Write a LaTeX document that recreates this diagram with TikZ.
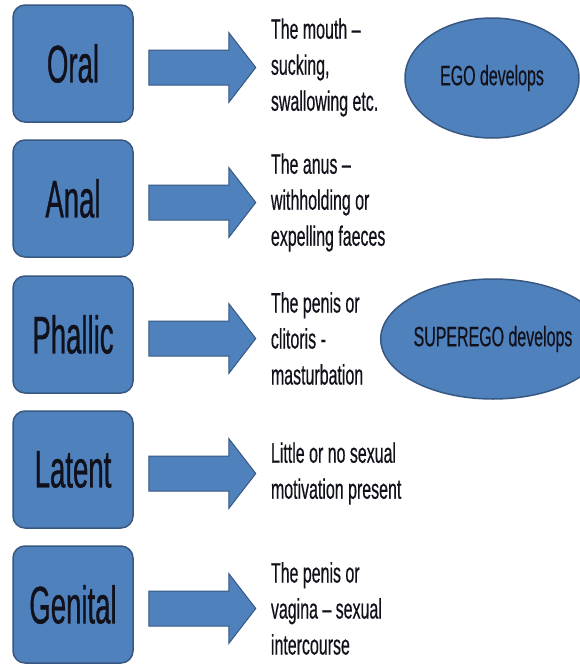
\documentclass[tikz,border=0pt]{standalone}
\usepackage{fontspec}
\setmainfont{Liberation Sans}
\newfontfamily\labelfont[FakeStretch=0.52,FakeBold=0.6]{Liberation Sans}
\newfontfamily\notefont[FakeStretch=0.57,FakeBold=0.4]{Liberation Sans}
\usetikzlibrary{calc,shapes.geometric}
\definecolor{stagefill}{RGB}{79,129,189}
\definecolor{stageedge}{RGB}{56,88,130}
\definecolor{inktext}{RGB}{17,17,28}
\begin{document}
\begin{tikzpicture}[x=1pt,y=-1pt,
  stage/.style={draw=stageedge, line width=1.5pt, fill=stagefill,
    rounded corners=12pt, minimum width=120pt, minimum height=117pt,
    inner sep=0pt, text=inktext, font=\labelfont\fontsize{53}{60}\selectfont},
  note/.style={align=left, inner sep=0pt, text=inktext,
    font=\notefont\fontsize{28}{36}\selectfont},
  blob/.style={ellipse, draw=stageedge, line width=1.5pt, fill=stagefill,
    inner sep=0pt, minimum width=174pt, minimum height=120pt, text=inktext,
    font=\notefont\fontsize{28}{34}\selectfont},
  blockarrow/.style={draw=stageedge, line width=1pt, fill=stagefill}]

  % canvas
  \fill[white] (0,0) rectangle (580,664);
  \useasboundingbox (0,0) rectangle (580,664);

  % stage boxes
  \node[stage] (oral)    at (73,63.5)  {Oral};
  \node[stage] (anal)    at (73,198.5) {Anal};
  \node[stage] (phallic) at (73,334.5) {Phallic};
  \node[stage] (latent)  at (73,469.5) {Latent};
  \node[stage] (genital) at (73,604.5) {Genital};

  % block arrows from each box
  \foreach \s in {oral,anal,phallic,latent,genital}{
    \draw[blockarrow] ($(\s.east)+(15,-13.5)$) -- ++(80,0) -- ++(0,-17.5)
      -- ++(27,35) -- ++(-27,35) -- ++(0,-17.5) -- ++(-80,0) -- cycle;
  }

  % descriptions
  \node[note, anchor=west] (oralnote) at ($(oral.east)+(137,4)$)
    {The mouth –\\sucking,\\swallowing etc.};
  \node[note, anchor=west] (analnote) at ($(anal.east)+(137,4)$)
    {The anus –\\withholding or\\expelling faeces};
  \node[note, anchor=west] (phallicnote) at ($(phallic.east)+(137,4)$)
    {The penis or\\clitoris -\\masturbation};
  \node[note, anchor=west] (latentnote) at ($(latent.east)+(137,4)$)
    {Little or no sexual\\motivation present};
  \node[note, anchor=west] (genitalnote) at ($(genital.east)+(137,4)$)
    {The penis or\\vagina – sexual\\intercourse};

  % developments
  \node[blob] (ego)      at (492,78)  {EGO develops};
  \node[blob] (superego) at (493,339) {SUPEREGO develops};
\end{tikzpicture}
\end{document}
